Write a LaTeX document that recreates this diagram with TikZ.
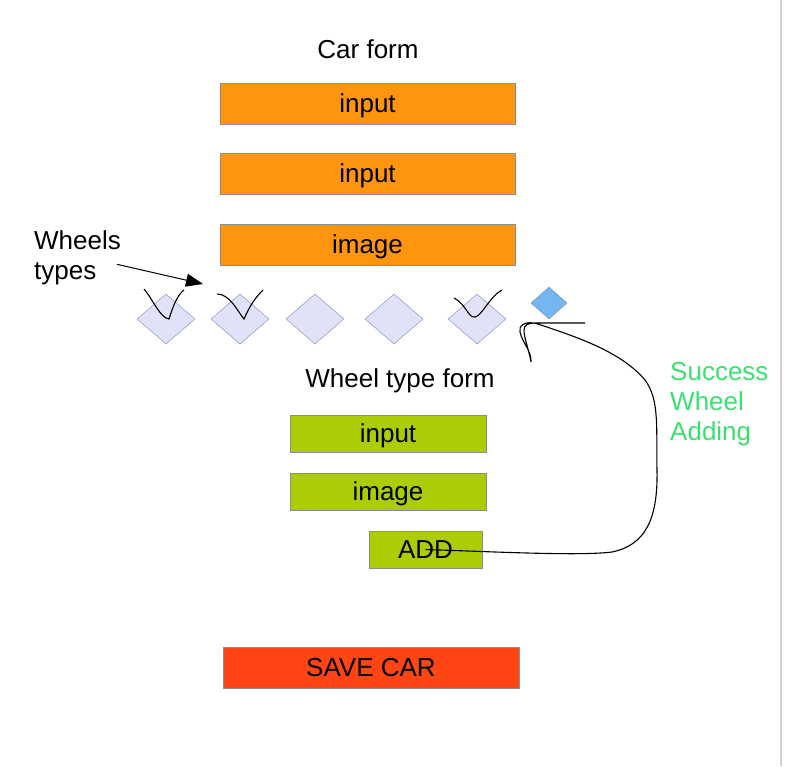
\documentclass[tikz,border=0pt]{standalone}
\usepackage{fontspec}
\setmainfont{Liberation Sans}
\usetikzlibrary{positioning,arrows.meta,calc,shapes.geometric}
\definecolor{carorange}{HTML}{FF950E}
\definecolor{wheelgreen}{HTML}{AECC06}
\definecolor{savered}{HTML}{FF4514}
\definecolor{wheelfill}{HTML}{E0E3F8}
\definecolor{wheelline}{HTML}{7C88B8}
\definecolor{newblue}{HTML}{74B6F0}
\definecolor{okgreen}{HTML}{3BE070}

\begin{document}
\begin{tikzpicture}[
  x=1pt,y=-1pt,
  font=\fontsize{26}{30}\selectfont,
  carbox/.style={draw=gray!90,fill=carorange,minimum width=295pt,minimum height=41pt,inner sep=0pt,text height=19pt,text depth=2pt},
  wbox/.style={draw=gray!90,fill=wheelgreen,minimum width=196pt,minimum height=37pt,inner sep=0pt,text height=19pt,text depth=2pt},
  wheel/.style={diamond,draw=wheelline,fill=wheelfill,minimum width=58pt,minimum height=50pt,inner sep=0pt},
  newwheel/.style={diamond,draw=wheelline,fill=newblue,minimum width=36pt,minimum height=32pt,inner sep=0pt},
  ar/.style={line width=1pt,-{Triangle[length=17pt,width=13pt]}},
  hand/.style={line width=1.1pt,black}
]
\useasboundingbox[fill=white] (0,0) rectangle (786,766);
\draw[gray!35,line width=2pt] (781,0) -- (781,766);
% car form
\node (carform) at (368,49) {Car form};
\node[carbox] (in1) at (367.5,103.5) {input};
\node[carbox] (in2) at (367.5,173.5) {input};
\node[carbox] (img) at (367.5,244.5) {image};
% wheel types
\node[anchor=north west,align=left,inner sep=0pt] (wtypes) at (34,230) {Wheels\\types};
\foreach \x/\n in {166/d1,240/d2,315/d3,394/d4,477/d5}
  \node[wheel] (\n) at (\x,319) {};
\node[newwheel] (d6) at (549,303) {};
\coordinate (tip) at (203,284);
\draw[ar] ($(wtypes.east)+(-4,7)$) -- (tip);
\draw[hand] (144,289) .. controls (152,298) and (160,318) .. (169,319) .. controls (172,310) and (176,296) .. (184,290);
\draw[hand] (217,294) .. controls (230,294) and (238,312) .. (244,319) .. controls (250,305) and (256,297) .. (263,290);
\draw[hand] (454,298) .. controls (466,304) and (468,318) .. (475,317) .. controls (482,316) and (490,296) .. (502,290);
% wheel type form
\node (wform) at (400,381) {Wheel type form};
\node[wbox] (win) at (388,433.5) {input};
\node[wbox] (wimg) at (388,491.5) {image};
\node[wbox,minimum width=113pt] (add) at (425.5,549.5) {ADD};
\coordinate (hookend) at (585,323);
\draw[hand] (add.center) .. controls (500,552) and (580,556) .. (612,552)
  .. controls (645,545) and (658,520) .. (657,470)
  .. controls (656,430) and (660,400) .. (645,380)
  .. controls (620,350) and (570,335) .. (538,324)
  .. controls (525,320) and (518,326) .. (520,332)
  .. controls (522,342) and (532,352) .. (531,362)
  .. controls (529,350) and (524,338) .. (524,330)
  .. controls (524,325) and (528,323) .. (535,323) -- (hookend);
\node[anchor=north west,align=left,inner sep=0pt,text=okgreen] (success) at (670,362) {Success\\Wheel\\Adding};
% save
\node[carbox,fill=savered,minimum width=296pt] (save) at (371,667.5) {SAVE CAR};
\end{tikzpicture}
\end{document}
